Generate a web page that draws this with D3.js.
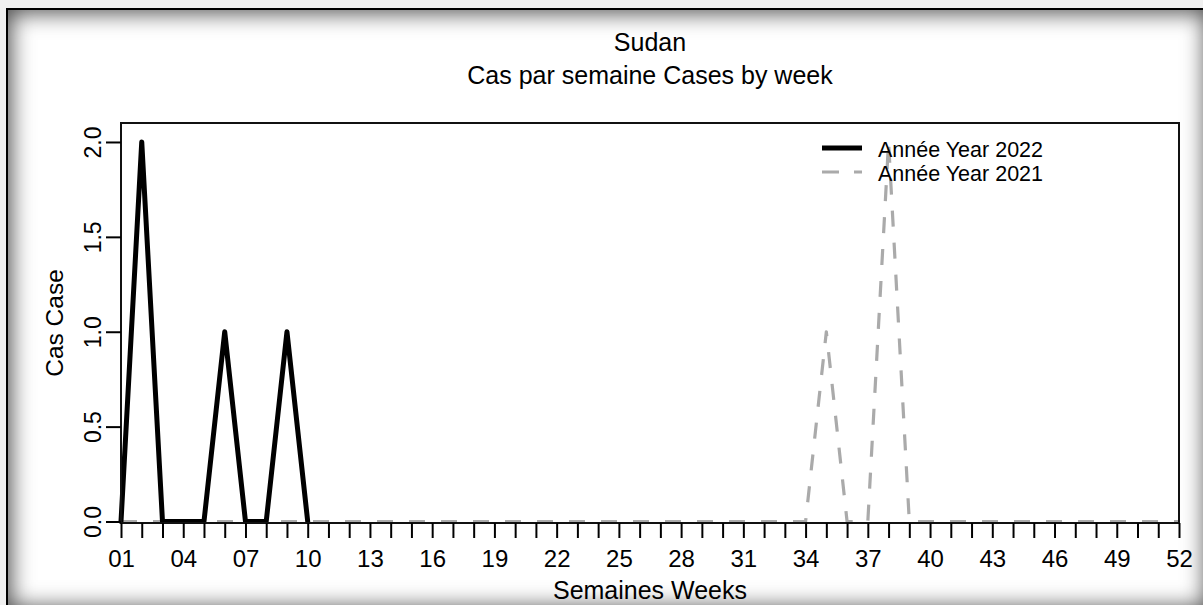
<!DOCTYPE html>
<html>
<head>
<meta charset="utf-8">
<script src="https://cdn.jsdelivr.net/npm/d3@7"></script>
<style>
  html, body { margin: 0; padding: 0; width: 1203px; height: 605px; overflow: hidden; background: #f0f0f0; }
  #frame {
    position: absolute; left: 6px; top: 8px; width: 1204px; height: 604px;
    box-sizing: border-box; border: 2px solid #000; background: #fff;
    box-shadow: inset 0 0 22px 3px rgba(0,0,0,0.7);
  }
  #chart { position: absolute; left: 0; top: 0; }
  text { font-family: "Liberation Sans", Arial, sans-serif; fill: #000; }
</style>
</head>
<body>
<div id="frame"></div>
<svg id="chart" width="1203" height="605"></svg>
<script>
// Weekly case counts, Sudan
const weeks = d3.range(1, 53);
const weeks2022 = [1, 2, 3, 4, 5, 6, 7, 8, 9, 10];
const cases2022 = [0, 2, 0, 0, 0, 1, 0, 0, 1, 0];
const cases2021 = [
  0, 0, 0, 0, 0, 0, 0, 0, 0, 0,
  0, 0, 0, 0, 0, 0, 0, 0, 0, 0,
  0, 0, 0, 0, 0, 0, 0, 0, 0, 0,
  0, 0, 0, 0, 1, 0, 0, 2, 0, 0,
  0, 0, 0, 0, 0, 0, 0, 0, 0, 0,
  0, 0
];
const xLabelWeeks = [1, 4, 7, 10, 13, 16, 19, 22, 25, 28, 31, 34, 37, 40, 43, 46, 49, 52];
const yTicks = [0, 0.5, 1, 1.5, 2];
const yTickLabels = ["0.0", "0.5", "1.0", "1.5", "2.0"];
const seriesNames = ["Année Year 2022", "Année Year 2021"];
const titleText = "Sudan";
const subtitleText = "Cas par semaine Cases by week";
const xTitle = "Semaines Weeks";
const yTitle = "Cas Case";

const svg = d3.select("#chart");
const plot = { left: 121, right: 1179, top: 123, bottom: 523 };

const x = d3.scaleLinear().domain([1, 52]).range([plot.left, plot.right]);
const y = d3.scaleLinear().domain([0, 2.1]).range([521.5, plot.top]);

// Titles
svg.append("text").attr("x", (plot.left + plot.right) / 2).attr("y", 51)
  .attr("text-anchor", "middle").style("font-size", "25px").text(titleText);
svg.append("text").attr("x", (plot.left + plot.right) / 2).attr("y", 84)
  .attr("text-anchor", "middle").style("font-size", "25px").text(subtitleText);

// Series lines
const line = d3.line().x(d => x(d[0])).y(d => y(d[1]));

svg.append("path")
  .datum(weeks.map((w, i) => [w, cases2021[i]]))
  .attr("d", line)
  .attr("fill", "none").attr("stroke", "#aaaaaa").attr("stroke-width", 3.2)
  .attr("stroke-dasharray", "16,16").attr("stroke-linejoin", "round");

svg.append("path")
  .datum(weeks2022.map((w, i) => [w, cases2022[i]]))
  .attr("d", line)
  .attr("fill", "none").attr("stroke", "#000").attr("stroke-width", 5)
  .attr("stroke-linejoin", "round").attr("stroke-linecap", "round");

// Plot box
svg.append("rect")
  .attr("x", plot.left).attr("y", plot.top)
  .attr("width", plot.right - plot.left).attr("height", plot.bottom - plot.top)
  .attr("fill", "none").attr("stroke", "#111").attr("stroke-width", 2);

// X axis: a tick every week, a label every third week
const xAxis = d3.axisBottom(x)
  .tickValues(weeks)
  .tickSize(15)
  .tickSizeOuter(0)
  .tickFormat(w => xLabelWeeks.includes(w) ? String(w).padStart(2, "0") : "");
const gx = svg.append("g").attr("transform", `translate(0,${plot.bottom})`).call(xAxis);
gx.select(".domain").remove();
gx.selectAll(".tick line").attr("stroke", "#000").attr("stroke-width", 2);
gx.selectAll(".tick text")
  .attr("y", 44).attr("dy", null)
  .style("font-size", "24px").style("font-family", "'Liberation Sans', Arial, sans-serif")
  .attr("fill", "#000");

// Y axis with rotated labels
const yAxis = d3.axisLeft(y)
  .tickValues(yTicks)
  .tickSize(15)
  .tickSizeOuter(0)
  .tickFormat((d, i) => yTickLabels[i]);
const gy = svg.append("g").attr("transform", `translate(${plot.left},0)`).call(yAxis);
gy.select(".domain").remove();
gy.selectAll(".tick line").attr("stroke", "#000").attr("stroke-width", 2);
gy.selectAll(".tick text")
  .attr("transform", "rotate(-90)")
  .attr("x", 0).attr("y", -20).attr("dy", null)
  .attr("text-anchor", "middle")
  .style("font-size", "23px").style("font-family", "'Liberation Sans', Arial, sans-serif")
  .attr("fill", "#000");

// Axis titles
svg.append("text").attr("x", (plot.left + plot.right) / 2).attr("y", 599)
  .attr("text-anchor", "middle").style("font-size", "25px").text(xTitle);
svg.append("text")
  .attr("transform", `translate(63,${(plot.top + plot.bottom) / 2}) rotate(-90)`)
  .attr("text-anchor", "middle").style("font-size", "24.5px").text(yTitle);

// Legend
const legendRows = [
  { name: seriesNames[0], stroke: "#000", width: 5, dash: null, y: 148 },
  { name: seriesNames[1], stroke: "#aaaaaa", width: 3.2, dash: "17,15", y: 172 }
];
const lg = svg.append("g");
legendRows.forEach(r => {
  lg.append("line").attr("x1", 822).attr("x2", 862).attr("y1", r.y).attr("y2", r.y)
    .attr("stroke", r.stroke).attr("stroke-width", r.width)
    .attr("stroke-dasharray", r.dash);
  lg.append("text").attr("x", 878).attr("y", r.y + 9)
    .style("font-size", "21.5px").text(r.name);
});
</script>
</body>
</html>
